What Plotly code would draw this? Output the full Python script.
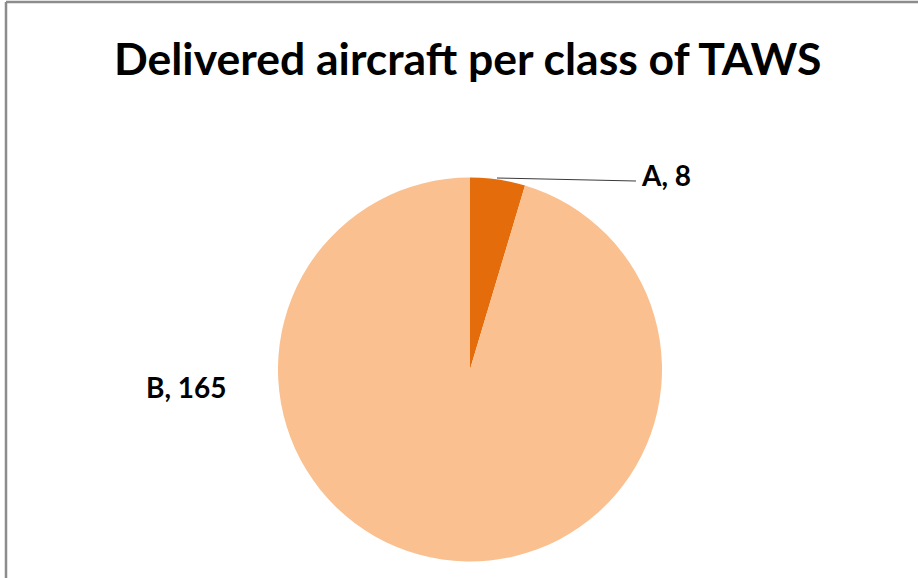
import plotly.graph_objects as go

# Data
categories = ["A", "B"]
values = [8, 165]
colors = ["#E46C0A", "#FAC090"]
title_text = "Delivered aircraft per class of TAWS"

W, H = 918, 578

def px(x):
    return x / W

def py(y):
    return (H - y) / H

fig = go.Figure()
fig.add_trace(go.Pie(
    labels=categories,
    values=values,
    marker=dict(colors=colors, line=dict(width=0)),
    sort=False,
    direction="clockwise",
    rotation=0,
    textinfo="none",
    hoverinfo="label+value",
    showlegend=False,
    domain=dict(x=[px(278), px(662)], y=[py(562), py(177)]),
))

lab_font = dict(family="Lato", size=28, color="#000000", weight="bold")
fig.add_annotation(
    x=px(639), y=py(175), xref="paper", yref="paper",
    xanchor="left", yanchor="middle",
    text=f"{categories[0]}, {values[0]}", showarrow=False, font=lab_font,
)
fig.add_annotation(
    x=px(186), y=py(387), xref="paper", yref="paper",
    xanchor="center", yanchor="middle",
    text=f"{categories[1]}, {values[1]}", showarrow=False, font=lab_font,
)
fig.add_annotation(
    x=px(468), y=py(58), xref="paper", yref="paper",
    xanchor="center", yanchor="middle",
    text=title_text, showarrow=False,
    font=dict(family="Lato", size=44.5, color="#000000", weight="bold"),
)

shapes = [
    # leader line for A
    dict(type="line", xref="paper", yref="paper",
         x0=px(497), y0=py(178), x1=px(636), y1=py(181),
         line=dict(color="#3a3a3a", width=1)),
    # chart frame (left & top visible)
    dict(type="line", xref="paper", yref="paper",
         x0=px(6), y0=py(2), x1=px(6), y1=py(600),
         line=dict(color="#8c8c8c", width=2.5)),
    dict(type="line", xref="paper", yref="paper",
         x0=px(6), y0=py(2), x1=px(930), y1=py(2),
         line=dict(color="#8c8c8c", width=2.5)),
]

fig.update_layout(
    width=W, height=H,
    margin=dict(l=0, r=0, t=0, b=0),
    paper_bgcolor="#ffffff",
    plot_bgcolor="#ffffff",
    shapes=shapes,
)

fig.write_html("out.html")
